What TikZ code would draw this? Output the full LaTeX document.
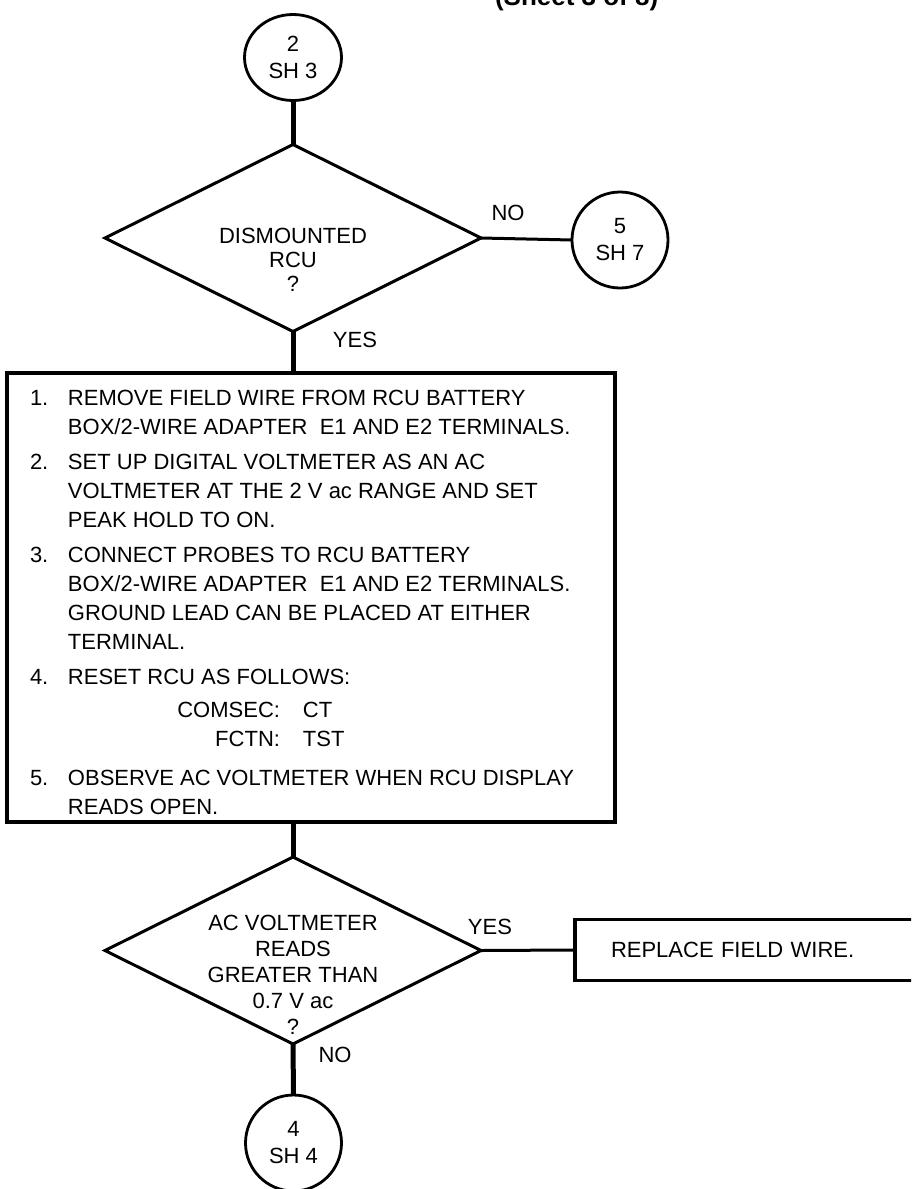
\documentclass[tikz,border=0pt]{standalone}
\usepackage{fontspec}
\setmainfont{Liberation Sans}
\usetikzlibrary{shapes.geometric}
\begin{document}
\begin{tikzpicture}[x=1pt,y=-1pt,
  every node/.style={font=\fontsize{22}{27}\selectfont, inner sep=0pt, outer sep=0pt},
  vconn/.style={line width=5pt},
  hconn/.style={line width=3pt},
  decision/.style={diamond, draw, line width=3pt, minimum width=376pt, minimum height=187pt},
  offpage/.style={circle, draw, line width=2.8pt, minimum size=96pt, align=center},
  stepbox/.style={rectangle, draw, line width=3.5pt},
  lbl/.style={anchor=center}
]
\clip (0,0) rectangle (911,1189);

% header (cut by the top edge)
\node[anchor=base west, font=\bfseries\fontsize{26}{30}\selectfont] (sheet) at (495,5) {(Sheet 3 of 8)};

% off-page connectors
\node[ellipse, draw, line width=2.8pt, minimum width=97pt, minimum height=86pt, align=center] (c2) at (293,57.5) {2\\SH 3};
\node[offpage] (c5) at (620,240) {5\\SH 7};
\node[offpage] (c4) at (293.5,1143) {4\\SH 4};

% decisions
\node[decision] (d1) at (293,238) {};
\node[align=center, font=\fontsize{22}{24}\selectfont] (d1t) at (293,260) {DISMOUNTED\\RCU\\?};

\node[decision] (d2) at (293,950.5) {};
\node[align=center, font=\fontsize{22}{26}\selectfont] (d2t) at (293,974.5) {AC VOLTMETER\\READS\\GREATER THAN\\0.7 V ac\\?};

% step box
\node[stepbox, minimum width=608pt, minimum height=449pt] (steps) at (311,597.5) {};
\node[anchor=north west, font=\fontsize{22}{29}\selectfont] (stepstext) at (30,384.7) {%
\begin{tabular}{@{}p{38pt}@{}l@{}}
1. & REMOVE FIELD WIRE FROM RCU BATTERY\\
   & BOX/2-WIRE ADAPTER\ \ E1 AND E2 TERMINALS.\\[6pt]
2. & SET UP DIGITAL VOLTMETER AS AN AC\\
   & VOLTMETER AT THE 2 V ac RANGE AND SET\\
   & PEAK HOLD TO ON.\\[6pt]
3. & CONNECT PROBES TO RCU BATTERY\\
   & BOX/2-WIRE ADAPTER\ \ E1 AND E2 TERMINALS.\\
   & GROUND LEAD CAN BE PLACED AT EITHER\\
   & TERMINAL.\\[6pt]
4. & RESET RCU AS FOLLOWS:\\[4pt]
   & \makebox[212pt][r]{COMSEC:}\hspace{23pt}CT\\
   & \makebox[212pt][r]{FCTN:}\hspace{23pt}TST\\[10pt]
5. & OBSERVE AC VOLTMETER WHEN RCU DISPLAY\\
   & READS OPEN.
\end{tabular}};

% result box (runs off the right edge)
\node[stepbox, anchor=west, minimum height=61pt, text width=350pt, inner xsep=36pt, align=left] (replace) at (575,950) {REPLACE FIELD WIRE.};

% labels
\node[lbl] (no1) at (508,213) {NO};
\node[lbl] (yes1) at (355,340) {YES};
\node[lbl] (yes2) at (490,927) {YES};
\node[lbl] (no2) at (335,1055) {NO};

% connectors
\draw[vconn] (c2) -- (d1.north);
\draw[hconn] (d1.east) -- (c5.west);
\draw[vconn] (d1.south) -- (d1.south |- steps.north);
\draw[vconn] (steps.south -| d2.north) -- (d2.north);
\draw[hconn] (d2.east) -- (replace.west);
\draw[vconn] (d2.south) -- (c4.north);
\end{tikzpicture}
\end{document}
